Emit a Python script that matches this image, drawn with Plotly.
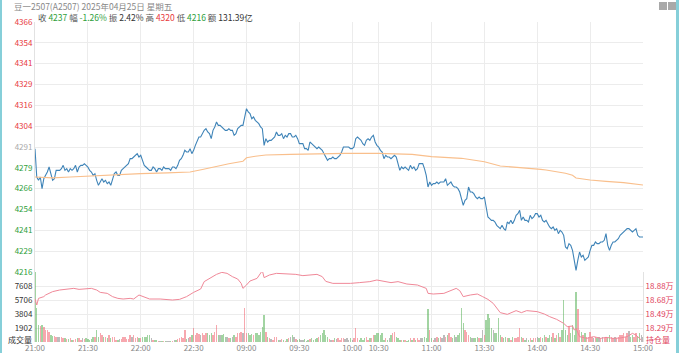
import plotly.graph_objects as go

# ---------------- data ----------------
prev_settle = 4291
time_tick_idx = [0, 30, 60, 90, 120, 150, 180, 195, 225, 255, 285, 315, 345]
time_tick_lbl = ["21:00", "21:30", "22:00", "22:30", "09:00", "09:30", "10:00",
                 "10:30", "11:00", "13:30", "14:00", "14:30", "15:00"]

# one value per trading minute (21:00 ... 15:00)
price = [
    4290, 4273, 4271, 4273, 4266, 4272, 4274, 4276, 4279, 4274,
    4271, 4272, 4277, 4277, 4277, 4278, 4280, 4277, 4278, 4276,
    4278, 4277, 4278, 4280, 4276, 4279, 4280, 4280, 4281, 4280,
    4279, 4277, 4276, 4274, 4275, 4271, 4268, 4270, 4272, 4270,
    4271, 4269, 4270, 4268, 4271, 4275, 4276, 4274, 4274, 4277,
    4278, 4279, 4280, 4281, 4284, 4284, 4285, 4286, 4287, 4285,
    4286, 4283, 4280, 4279, 4278, 4277, 4277, 4279, 4278, 4276,
    4278, 4278, 4277, 4279, 4278, 4278, 4278, 4277, 4279, 4279,
    4278, 4280, 4283, 4284, 4286, 4289, 4288, 4288, 4290, 4287,
    4289, 4292, 4295, 4297, 4297, 4299, 4301, 4302, 4300, 4299,
    4296, 4301, 4303, 4306, 4304, 4304, 4303, 4302, 4301, 4301,
    4302, 4301, 4301, 4298, 4299, 4302, 4303, 4304, 4304, 4309,
    4314, 4312, 4311, 4308, 4309, 4307, 4306, 4305, 4303, 4302,
    4292, 4296, 4294, 4295, 4295, 4296, 4297, 4300, 4298, 4298,
    4299, 4296, 4298, 4297, 4299, 4299, 4297, 4297, 4298, 4296,
    4293, 4293, 4293, 4290, 4290, 4289, 4294, 4293, 4292, 4291,
    4290, 4291, 4290, 4289, 4287, 4285, 4283, 4284, 4284, 4285,
    4284, 4284, 4285, 4286, 4288, 4291, 4291, 4291, 4291, 4290,
    4290, 4291, 4296, 4297, 4296, 4295, 4293, 4292, 4295, 4296,
    4295, 4297, 4298, 4294, 4292, 4291, 4289, 4288, 4284, 4286,
    4285, 4285, 4284, 4285, 4286, 4285, 4281, 4277, 4279, 4278,
    4279, 4278, 4277, 4280, 4278, 4279, 4277, 4278, 4281, 4281,
    4281, 4278, 4274, 4267, 4270, 4268, 4269, 4269, 4270, 4269,
    4270, 4270, 4270, 4272, 4268, 4269, 4270, 4268, 4267, 4267,
    4266, 4264, 4260, 4256, 4259, 4260, 4267, 4264, 4264, 4263,
    4261, 4260, 4261, 4260, 4260, 4261, 4255, 4249, 4248, 4247,
    4247, 4246, 4244, 4243, 4242, 4244, 4242, 4241, 4246, 4245,
    4247, 4245, 4247, 4250, 4251, 4253, 4247, 4249, 4247, 4247,
    4246, 4250, 4248, 4249, 4251, 4251, 4249, 4250, 4247, 4246,
    4247, 4245, 4243, 4242, 4243, 4241, 4242, 4239, 4241, 4240,
    4238, 4231, 4230, 4233, 4232, 4229, 4224, 4217, 4223, 4228,
    4225, 4226, 4223, 4224, 4225, 4229, 4232, 4232, 4234, 4233,
    4233, 4234, 4234, 4235, 4239, 4232, 4229, 4232, 4234, 4234,
    4235, 4236, 4238, 4239, 4240, 4241, 4242, 4242, 4241, 4240,
    4241, 4242, 4238, 4237, 4237, 4237,
]

volume = [
    9500, 4580, 2310, 2220, 2310, 2080, 1630, 1630, 1400, 950,
    860, 860, 725, 725, 635, 640, 500, 500, 450, 410,
    600, 270, 270, 410, 500, 500, 270, 500, 400, 500,
    410, 270, 410, 725, 730, 1630, 725, 1180, 950, 725,
    720, 600, 950, 500, 725, 680, 270, 270, 400, 410,
    680, 680, 400, 410, 950, 725, 950, 500, 680, 500,
    500, 725, 725, 680, 950, 950, 500, 270, 270, 270,
    140, 140, 140, 140, 140, 140, 140, 140, 140, 270,
    270, 410, 600, 725, 500, 1630, 410, 500, 725, 950,
    1860, 950, 1180, 1100, 950, 1180, 950, 1180, 1180, 950,
    1180, 950, 1405, 2310, 950, 950, 950, 1130, 725, 680,
    500, 500, 725, 950, 725, 1180, 1270, 1400, 1180, 4580,
    1180, 1180, 950, 1130, 950, 1180, 1180, 950, 1405, 2085,
    3670, 1405, 680, 500, 410, 270, 725, 680, 270, 270,
    410, 270, 136, 410, 500, 725, 950, 725, 410, 270,
    410, 270, 272, 410, 136, 270, 410, 500, 270, 410,
    500, 725, 950, 1180, 1630, 950, 680, 410, 270, 270,
    500, 410, 500, 270, 500, 500, 410, 500, 272, 500,
    272, 500, 1860, 500, 272, 500, 272, 500, 725, 272,
    500, 500, 952, 952, 1180, 1180, 952, 1180, 272, 500,
    272, 500, 952, 1180, 1405, 725, 500, 272, 272, 272,
    272, 136, 272, 500, 272, 500, 272, 500, 272, 500,
    500, 725, 500, 4440, 1630, 500, 272, 500, 725, 500,
    725, 500, 952, 725, 952, 1180, 725, 500, 952, 725,
    952, 1180, 4580, 2540, 1630, 1400, 952, 725, 500, 500,
    500, 725, 500, 500, 1630, 952, 3000, 3810, 3220, 1860,
    1632, 1180, 1180, 3220, 952, 725, 500, 725, 500, 500,
    272, 725, 500, 500, 725, 1860, 725, 500, 272, 500,
    272, 500, 272, 500, 500, 725, 500, 725, 500, 952,
    725, 500, 952, 725, 1180, 500, 952, 1180, 725, 1632,
    5712, 1632, 952, 2170, 1180, 2310, 952, 6850, 4440, 1632,
    1405, 952, 1180, 725, 725, 1405, 725, 500, 725, 500,
    725, 500, 725, 500, 725, 500, 952, 725, 500, 725,
    500, 725, 952, 952, 1180, 725, 1180, 1520, 725, 952,
    725, 1180, 725, 1180, 952, 725,
]

avg_min = [0, 10, 20, 37, 50, 60, 75, 88, 95, 103, 110, 118, 120, 125, 131,
           145, 160, 176, 195, 214, 225, 242, 255, 261, 264, 287, 290, 301,
           305, 307, 315, 324, 334, 345]
avg_val = [4273, 4272.5, 4273, 4274, 4274.5, 4275, 4275.5, 4276, 4277.5,
           4279.5, 4281, 4282.5, 4284.5, 4285.5, 4286.2, 4286.6, 4287, 4287.2,
           4287.2, 4286.6, 4285.2, 4284.2, 4282.2, 4280.2, 4279.6, 4277.6,
           4277.2, 4275.2, 4274, 4272.4, 4271.2, 4270.4, 4269.6, 4268.2]

oi_min = [0, 1, 2, 5, 6, 10, 14, 18, 22, 25, 29, 32, 35, 37, 41, 44, 47, 50,
          54, 56, 59, 62, 65, 71, 78, 82, 86, 90, 94, 96, 99, 103, 106, 109,
          112, 115, 117, 118, 120, 122, 126, 128, 129, 130, 133, 137, 143,
          148, 152, 156, 160, 163, 165, 169, 175, 179, 184, 190, 194, 198,
          202, 206, 211, 217, 220, 222, 223, 226, 232, 236, 239, 241, 243,
          247, 251, 254, 257, 260, 264, 268, 271, 273, 276, 279, 285, 289,
          292, 296, 300, 302, 305, 306, 307, 309, 313, 317, 321, 324, 328,
          332, 336, 339, 341, 344]
oi_val = [187000, 186130, 187060, 187300, 187530, 188000, 188230, 188370,
          188460, 188320, 188370, 188460, 188230, 187900, 187760, 187300,
          187060, 186970, 187060, 186970, 187530, 187300, 186970, 186970,
          186830, 186920, 187300, 187900, 188370, 189400, 189860, 190420,
          190700, 190560, 190100, 189770, 189160, 188460, 188930, 189490,
          189860, 190700, 190940, 189960, 190330, 190560, 190470, 190420,
          190240, 190330, 190420, 190100, 189440, 189160, 189100, 189160,
          189260, 189400, 189630, 189400, 189260, 189400, 189070, 188930,
          188700, 188460, 187760, 187670, 187760, 188140, 188460, 188140,
          187300, 187530, 187670, 187300, 186920, 186360, 185060, 184820,
          185200, 185340, 185060, 185340, 185200, 184870, 184500, 184120,
          183560, 183100, 183190, 182630, 182860, 181700, 181460, 181700,
          181460, 181600, 181460, 181510, 181700, 182160, 181930, 181230]

vol_ticks = [1902, 3804, 5706, 7608]
vol_max = 9510
oi_ticks = [182910, 184870, 186830, 188790]
oi_range = [180950, 190750]

# ---------------- styling helpers ----------------
RED = "#e8383d"
GREEN = "#2e9e3a"
GRAY = "#aaaaaa"
FONT = "Noto Sans CJK SC, Noto Sans, sans-serif"

W, H = 679, 353
ML, MR, MT, MB = 35, 36, 22, 11
PW, PH = W - ML - MR, H - MT - MB


def px_x(px):
    return (px - ML) / PW


def px_y(py):
    return (H - MB - py) / PH


step = 12.5
p_ticks = [prev_settle + step * k for k in range(-6, 7)]


def col_for(v):
    if abs(v - prev_settle) < 1e-9:
        return GRAY
    return RED if v > prev_settle else GREEN


p_text = ["<span style='color:%s'>%d</span>" % (col_for(v), int(v + 0.5)) for v in p_ticks]
pct_text = ["<span style='color:%s'>%.2f%%</span>" % (col_for(v), abs(v - prev_settle) / prev_settle * 100)
            for v in p_ticks]

bar_colors = []
prev = prev_settle
for p in price:
    if p > prev:
        bar_colors.append("rgba(240,96,110,0.55)")
    elif p < prev:
        bar_colors.append("rgba(70,170,70,0.5)")
    else:
        bar_colors.append("rgba(120,120,120,0.5)")
    prev = p

xs = list(range(len(price)))

fig = go.Figure()
fig.add_trace(go.Scatter(x=xs, y=price, mode="lines", line=dict(color="#3f84b8", width=1.1),
                         xaxis="x", yaxis="y", hoverinfo="skip"))
fig.add_trace(go.Scatter(x=avg_min, y=avg_val, mode="lines", line=dict(color="#f9bf8c", width=1.1),
                         xaxis="x", yaxis="y", hoverinfo="skip"))
fig.add_trace(go.Bar(x=xs, y=volume, marker=dict(color=bar_colors, line=dict(width=0)), width=0.8,
                     xaxis="x2", yaxis="y2", hoverinfo="skip"))
fig.add_trace(go.Scatter(x=oi_min, y=oi_val, mode="lines", line=dict(color="#f08898", width=1),
                         xaxis="x2", yaxis="y4", hoverinfo="skip"))

grid = "#ececec"
split = (342 - 272) / PH
tick_font = dict(family=FONT, size=8)
common = dict(automargin=False)

fig.update_layout(
    width=W, height=H, autosize=False,
    margin=dict(l=ML, r=MR, t=MT, b=MB, pad=0, autoexpand=False),
    paper_bgcolor="white", plot_bgcolor="white",
    showlegend=False, bargap=0,
    font=dict(family=FONT, size=8, color="#555"),
    xaxis=dict(domain=[0, 1], range=[0, 345], anchor="y", tickvals=time_tick_idx,
               showticklabels=False, showgrid=True, gridcolor=grid, zeroline=False,
               showline=False, ticks="", **common),
    xaxis2=dict(domain=[0, 1], range=[0, 345], anchor="y2", tickvals=time_tick_idx,
                ticktext=time_tick_lbl, showgrid=True, gridcolor=grid, zeroline=False,
                showline=False, ticks="", tickfont=dict(family=FONT, size=8, color="#888"), **common),
    yaxis=dict(domain=[split, 1], range=[4216, 4366], tickvals=p_ticks, ticktext=p_text,
               showgrid=True, gridcolor=grid, zeroline=False, ticks="", tickfont=tick_font,
               showline=True, linecolor="#e2e2e2", linewidth=1, mirror=False, **common),
    yaxis3=dict(overlaying="y", side="right", range=[4216, 4366], tickvals=p_ticks,
                ticktext=pct_text, showgrid=False, zeroline=False, ticks="", tickfont=tick_font,
                showline=True, linecolor="#e2e2e2", linewidth=1, **common),
    yaxis2=dict(domain=[0, split], range=[0, vol_max], tickvals=vol_ticks,
                ticktext=[str(v) for v in vol_ticks], showgrid=True, gridcolor=grid,
                zeroline=False, ticks="", tickfont=dict(family=FONT, size=8, color="#333"),
                showline=True, linecolor="#e2e2e2", linewidth=1, **common),
    yaxis4=dict(overlaying="y2", side="right", range=oi_range, tickvals=oi_ticks,
                ticktext=["%.2f万" % (v / 10000) for v in oi_ticks], showgrid=False,
                zeroline=False, ticks="", tickfont=dict(family=FONT, size=8, color="#e0405a"),
                showline=True, linecolor="#e2e2e2", linewidth=1, **common),
)

S = lambda c, t: "<span style='color:%s'>%s</span>" % (c, t)
info = ("收 " + S(GREEN, "4237") + " 幅 " + S(GREEN, "-1.26%") + " 振 " + S("#333", "2.42%")
        + " 高 " + S(RED, "4320") + " 低 " + S(GREEN, "4216") + " 额 " + S("#333", "131.39亿"))

annots = [
    dict(text="豆一2507(A2507) 2025年04月25日 星期五", x=px_x(13), y=px_y(5.5), xanchor="left",
         yanchor="middle", font=dict(family=FONT, size=8.5, color="#888")),
    dict(text=info, x=px_x(37), y=px_y(16.5), xanchor="left", yanchor="middle",
         font=dict(family=FONT, size=8.5, color="#555")),
    dict(text="成交量", x=px_x(33), y=px_y(339), xanchor="right", yanchor="middle",
         font=dict(family=FONT, size=8, color="#333")),
    dict(text="持仓量", x=px_x(645), y=px_y(339), xanchor="left", yanchor="middle",
         font=dict(family=FONT, size=8, color="#e0405a")),
]
for a in annots:
    a.update(xref="paper", yref="paper", showarrow=False, borderpad=0)
fig.update_layout(annotations=annots)

shapes = [
    dict(type="rect", x0=px_x(0), x1=px_x(2), y0=px_y(353), y1=px_y(0), fillcolor="#86cfd9", line_width=0),
    dict(type="rect", x0=px_x(676), x1=px_x(679), y0=px_y(353), y1=px_y(0), fillcolor="#86cfd9", line_width=0),
    dict(type="rect", x0=px_x(659), x1=px_x(667), y0=px_y(10), y1=px_y(2), fillcolor="#a9a9a9", line_width=0),
    dict(type="rect", x0=px_x(668), x1=px_x(676), y0=px_y(10), y1=px_y(2), fillcolor="#a9a9a9", line_width=0),
]
for s in shapes:
    s.update(xref="paper", yref="paper", layer="above")
fig.update_layout(shapes=shapes)

fig.write_html("out.html", config={"responsive": False, "displayModeBar": False})
